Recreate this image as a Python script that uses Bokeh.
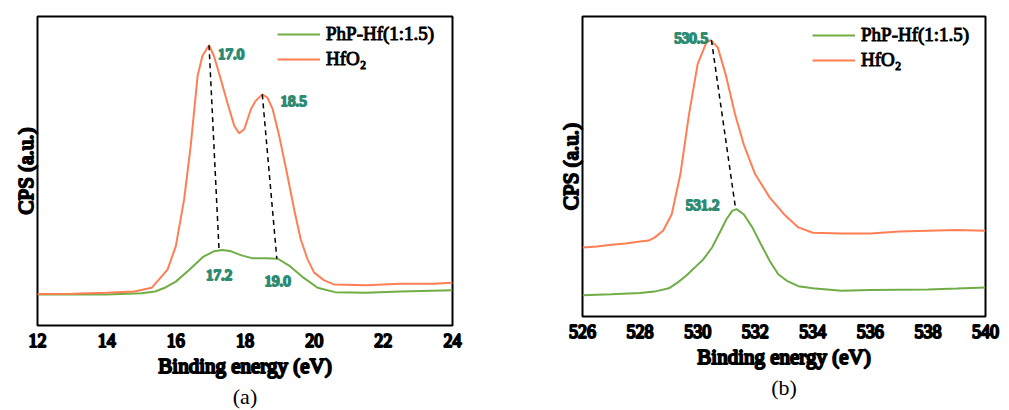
from bokeh.plotting import figure
from bokeh.layouts import row
from bokeh.models import Legend, LegendItem, Title, FixedTicker
from bokeh.core.properties import value
from bokeh.embed import file_html
from bokeh.resources import INLINE

# ---- Panel (a): Hf 4f / valence region ----
a_hfo2_x = [12, 13, 14, 14.8, 15.3, 15.76, 16.0, 16.24, 16.43, 16.63, 16.77, 16.96, 17.1, 17.3,
            17.49, 17.69, 17.83, 17.98, 18.17, 18.31, 18.5, 18.65, 18.8, 18.99, 19.23, 19.42,
            19.61, 19.81, 20.0, 20.29, 20.57, 21.5, 22.5, 23.45, 24]
a_hfo2_y = [10.2, 10.3, 10.6, 11.0, 12.2, 18.1, 25.7, 40.8, 58.1, 80.8, 87.3, 90.7, 87.3, 79.7,
            72.1, 64.6, 62.2, 63.5, 70.0, 72.7, 74.8, 73.7, 70.0, 61.3, 48.4, 37.6,
            27.9, 21.4, 17.1, 14.6, 13.3, 13.0, 13.5, 13.5, 13.8]
a_php_x = [12, 13, 14, 15, 15.4, 15.7, 16.0, 16.4, 16.8, 17.1, 17.35, 17.6, 17.9, 18.2, 18.6,
           18.95, 19.3, 19.7, 20.1, 20.6, 21.5, 22.5, 24]
a_php_y = [10.0, 10.0, 10.0, 10.4, 11.0, 12.3, 14.2, 18.1, 22.3, 24.0, 24.4, 24.0, 22.7, 21.8,
           21.8, 21.6, 19.2, 15.4, 12.2, 10.8, 10.6, 11.0, 11.4]
a_ticks = [12, 14, 16, 18, 20, 22, 24]
# peak shift guides: (x0, y0, x1, y1)
a_guides_x0 = [16.96, 18.5]
a_guides_y0 = [90.7, 74.8]
a_guides_x1 = [17.25, 18.92]
a_guides_y1 = [24.3, 21.6]
a_lab_text = ["17.0", "18.5", "17.2", "19.0"]
a_lab_x = [17.22, 19.03, 17.25, 18.94]
a_lab_y = [87.8, 72.7, 16.2, 14.4]
a_lab_align = ["left", "left", "center", "center"]

# ---- Panel (b): O 1s ----
b_hfo2_x = [526, 526.5, 527, 527.5, 528, 528.3, 528.5, 528.8, 529.1, 529.4, 529.7, 530.0, 530.3,
            530.45, 530.7, 531.0, 531.3, 531.6, 532.0, 532.5, 533.0, 533.5, 534.0, 535, 536,
            537, 538, 539, 540]
b_hfo2_y = [23.0, 23.3, 23.9, 24.3, 25.0, 25.3, 26.3, 28.6, 34.1, 47.4, 67.4, 84.1, 91.3,
            92.1, 89.7, 79.7, 67.4, 57.4, 47.4, 39.7, 34.1, 29.7, 27.9, 27.7, 27.7,
            28.3, 28.6, 28.8, 28.6]
b_php_x = [526, 527, 528, 528.5, 529.0, 529.3, 529.6, 529.9, 530.2, 530.5, 530.8, 531.0, 531.2,
           531.35, 531.6, 531.9, 532.2, 532.5, 532.8, 533.1, 533.5, 534, 535, 536, 537, 538, 539, 540]
b_php_y = [7.1, 7.4, 7.8, 8.3, 9.4, 11.3, 13.6, 16.3, 19.1, 23.0, 28.6, 32.4, 35.2,
           35.8, 34.1, 29.7, 24.1, 18.6, 14.1, 11.9, 10.1, 9.4, 8.6, 8.8, 8.9, 9.0, 9.3, 9.7]
b_ticks = [526, 528, 530, 532, 534, 536, 538, 540]
b_guides_x0 = [530.48]
b_guides_y0 = [92.1]
b_guides_x1 = [531.32]
b_guides_y1 = [35.8]
b_lab_text = ["530.5", "531.2"]
b_lab_x = [530.36, 530.76]
b_lab_y = [93.0, 37.1]
b_lab_align = ["right", "right"]

series_names = ["PhP-Hf(1:1.5)", "HfO\u2082"]
GREEN = "#70AD47"
ORANGE = "#FF7F55"
TEAL = "#2E8B72"
SERIF = "Liberation Serif"


def make_panel(xr, ticks, hx, hy, px, py, gx0, gy0, gx1, gy1, lt, lx, ly, la,
               caption, bl, br, bt, bb, fw, fh, leg_x, leg_y):
    p = figure(frame_width=fw, frame_height=fh, x_range=xr, y_range=(0, 100),
               output_backend="svg", toolbar_location=None,
               min_border_left=bl, min_border_right=br, min_border_top=bt, min_border_bottom=bb)
    p.background_fill_color = "white"
    p.border_fill_color = "white"
    p.outline_line_color = "black"
    p.outline_line_width = 2
    p.xgrid.visible = False
    p.ygrid.visible = False

    rp = p.line(px, py, line_color=GREEN, line_width=2)
    rh = p.line(hx, hy, line_color=ORANGE, line_width=2)
    p.segment(x0=gx0, y0=gy0, x1=gx1, y1=gy1, line_color="black",
              line_width=1.5, line_dash="5 4")
    for t, x, y, a in zip(lt, lx, ly, la):
        p.text(x=[x], y=[y], text=[t], text_color=TEAL, text_font=value(SERIF),
               text_font_style="normal", text_font_size="15px", text_align=a,
               text_baseline="middle", text_outline_color=TEAL)

    p.xaxis.ticker = FixedTicker(ticks=ticks)
    p.xaxis.axis_line_color = None
    p.xaxis.major_tick_line_color = None
    p.xaxis.minor_tick_line_color = None
    p.xaxis.major_label_text_font = SERIF
    p.xaxis.major_label_text_font_style = "normal"
    p.xaxis.major_label_text_font_size = "18px"
    p.xaxis.major_label_text_color = "black"
    p.xaxis.major_label_text_outline_color = "black"
    p.xaxis.major_label_standoff = 2

    for ax in (p.xaxis[0], p.yaxis[0]):
        ax.axis_label_text_font = SERIF
        ax.axis_label_text_font_style = "normal"
        ax.axis_label_text_font_size = "21px"
        ax.axis_label_text_outline_color = "black"
        ax.axis_label_text_color = "black"
    p.xaxis.axis_label = "Binding energy (eV)"
    p.xaxis.axis_label_standoff = 4

    p.yaxis.ticker = FixedTicker(ticks=[])
    p.yaxis.axis_line_color = None
    p.yaxis.major_tick_line_color = None
    p.yaxis.minor_tick_line_color = None
    p.yaxis.major_label_standoff = 0
    p.yaxis.axis_label = "CPS (a.u.)"
    p.yaxis.axis_label_standoff = 0

    leg = Legend(items=[LegendItem(label=series_names[0], renderers=[rp]),
                        LegendItem(label=series_names[1], renderers=[rh])],
                 location=(leg_x, leg_y), padding=0, margin=0, spacing=3,
                 glyph_width=43, glyph_height=22, label_height=22, label_standoff=6,
                 label_text_color="black", border_line_color=None, background_fill_alpha=0,
                 label_text_font=SERIF, label_text_font_style="normal",
                 label_text_font_size="19px", label_text_outline_color="black")
    p.add_layout(leg)

    cap = Title(text=caption, align="center", text_font=SERIF, text_font_size="22px",
                text_font_style="normal", text_color="black", standoff=3)
    p.add_layout(cap, "below")
    return p


pa = make_panel((12, 24), a_ticks, a_hfo2_x, a_hfo2_y, a_php_x, a_php_y,
                a_guides_x0, a_guides_y0, a_guides_x1, a_guides_y1,
                a_lab_text, a_lab_x, a_lab_y, a_lab_align, "(a)",
                37, 53, 14, 87, 415, 309, 240, 255)
pb = make_panel((526, 540), b_ticks, b_hfo2_x, b_hfo2_y, b_php_x, b_php_y,
                b_guides_x0, b_guides_y0, b_guides_x1, b_guides_y1,
                b_lab_text, b_lab_x, b_lab_y, b_lab_align, "(b)",
                77, 24, 16, 94, 403, 300, 230, 245)

layout = row(pa, pb)
open("out.html", "w").write(file_html(layout, INLINE))
